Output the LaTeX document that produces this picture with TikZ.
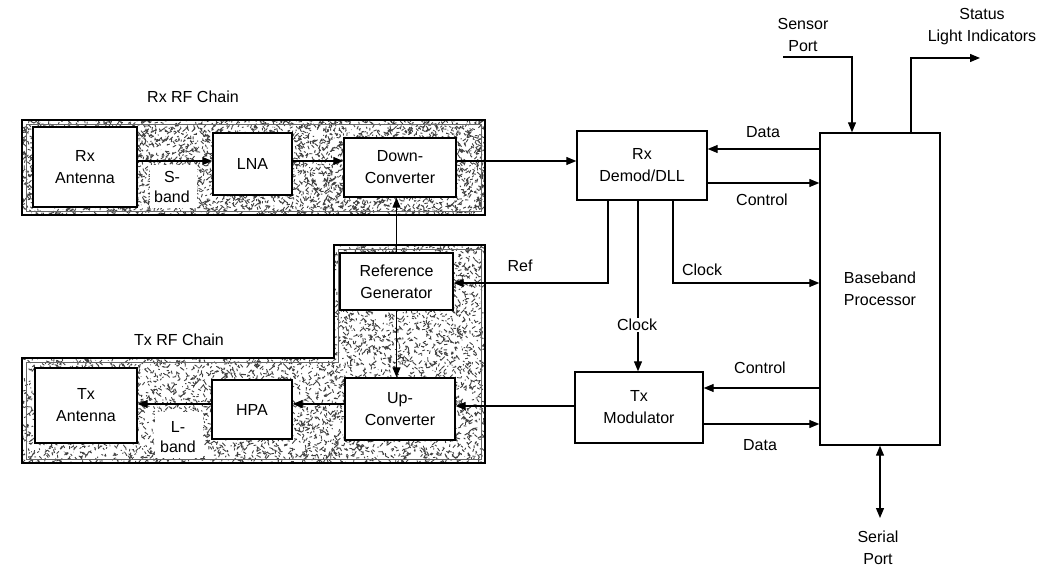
\documentclass[tikz,border=0pt]{standalone}
\usepackage{fontspec}
\setmainfont{Liberation Sans}
\usetikzlibrary{arrows.meta}
\newcommand\lblfont{\fontsize{16}{22}\selectfont}
\begin{document}
\begin{tikzpicture}[x=1pt,y=-1pt,
  box/.style={draw, line width=1.4pt, fill=white, inner sep=0pt, align=center, font=\lblfont},
  arr/.style={line width=1.2pt, -{Triangle[length=10pt,width=8pt]}},
  darr/.style={line width=1.2pt, {Triangle[length=10pt,width=8pt]}-{Triangle[length=10pt,width=8pt]}},
  lab/.style={font=\lblfont, align=center, inner sep=1pt},
  region/.style={draw, line width=1.5pt},
  inner/.style={draw=black!60, line width=0.7pt},
  speck/.style={draw=black!75, line width=0.9pt}]
\useasboundingbox (0,0) rectangle (1052,569);
\pgfmathsetseed{4242}

% ---- textured regions ----
\begin{scope}
  \clip (22,120) rectangle (485,215);
  \draw[speck] \foreach \i in {1,...,4500}{ ({22+463*rnd},{120+95*rnd}) -- ++({7*rnd-3.5},{7*rnd-3.5}) };
\end{scope}
\begin{scope}
  \clip (22,358) -- (334,358) -- (334,245) -- (485,245) -- (485,463) -- (22,463) -- cycle;
  \draw[speck] \foreach \i in {1,...,7500}{ ({22+463*rnd},{245+218*rnd}) -- ++({7*rnd-3.5},{7*rnd-3.5}) };
\end{scope}
\draw[region] (22,120) rectangle (485,215);
\draw[inner] (26,124) rectangle (481,211);
\draw[region] (22,358) -- (334,358) -- (334,245) -- (485,245) -- (485,463) -- (22,463) -- cycle;
\draw[inner] (26,362) -- (338,362) -- (338,249) -- (481,249) -- (481,459) -- (26,459) -- cycle;

% white label patches
\fill[white] (150,165) rectangle (197,208);
\fill[white] (155,412) rectangle (203,458);

% ---- region titles ----
\node[lab] (rxtitle) at (193,97) {Rx RF Chain};
\node[lab] (txtitle) at (179,340) {Tx RF Chain};

% ---- blocks ----
\node[box, minimum width=104pt, minimum height=80pt] (rxant) at (85,167) {Rx\\Antenna};
\node[box, minimum width=79pt, minimum height=62pt] (lna) at (252.5,164) {LNA};
\node[box, minimum width=112pt, minimum height=59pt] (dc) at (400,167.5) {Down-\\Converter};
\node[box, minimum width=130pt, minimum height=69pt] (demod) at (642,165.5) {Rx\\Demod/DLL};
\node[box, minimum width=120pt, minimum height=312pt] (bb) at (880,289) {Baseband\\Processor};
\node[box, minimum width=113pt, minimum height=57pt] (refgen) at (396.5,281.5) {Reference\\Generator};
\node[box, minimum width=110pt, minimum height=62pt] (upc) at (400,409) {Up-\\Converter};
\node[box, minimum width=80pt, minimum height=59pt] (hpa) at (252,409.5) {HPA};
\node[box, minimum width=102pt, minimum height=75pt] (txant) at (86,405.5) {Tx\\Antenna};
\node[box, minimum width=128pt, minimum height=71pt] (txmod) at (639,407.5) {Tx\\Modulator};

\node[lab, font=\fontsize{16}{20}\selectfont] (sband) at (172,187) {S-\\band};
\node[lab, font=\fontsize{16}{20}\selectfont] (lband) at (178,437) {L-\\band};

% ---- helper coordinates ----
\coordinate (yrx) at (0,161);
\coordinate (ydat) at (0,149);
\coordinate (yctl) at (0,183);
\coordinate (yref) at (0,283);
\coordinate (yctl2) at (0,388);
\coordinate (ydat2) at (0,424);
\coordinate (ytx) at (0,406);
\coordinate (ytxc) at (0,404);
\coordinate (x608) at (608,0);
\coordinate (x638) at (638,0);
\coordinate (x673) at (673,0);
\coordinate (x852) at (852,0);
\coordinate (x911) at (911,0);
\coordinate (sensor) at (783,57);
\coordinate (status) at (980,58);
\coordinate (serial) at (880,518);

% ---- connectors ----
\draw[arr] (rxant.east |- yrx) -- (lna.west |- yrx);
\draw[arr] (lna.east |- yrx) -- (dc.west |- yrx);
\draw[arr] (dc.east |- yrx) -- (demod.west |- yrx);
\draw[arr] (bb.west |- ydat) -- (demod.east |- ydat);
\draw[arr] (demod.east |- yctl) -- (bb.west |- yctl);
\draw[arr] (demod.south -| x608) |- (refgen.east |- yref);
\draw[arr] (demod.south -| x673) |- (bb.west |- yref);
\draw[arr] (demod.south -| x638) -- (txmod.north -| x638);
\draw[arr] (bb.west |- yctl2) -- (txmod.east |- yctl2);
\draw[arr] (txmod.east |- ydat2) -- (bb.west |- ydat2);
\draw[arr] (txmod.west |- ytx) -- (upc.east |- ytx);
\draw[arr] (upc.west |- ytxc) -- (hpa.east |- ytxc);
\draw[arr] (hpa.west |- ytxc) -- (txant.east |- ytxc);
\draw[arr] (refgen.north) -- (refgen.north |- dc.south);
\draw[arr] (refgen.south) -- (refgen.south |- upc.north);
\draw[arr] (sensor) -| (bb.north -| x852);
\draw[arr] (bb.north -| x911) |- (status);
\draw[darr] (bb.south) -- (serial);

% ---- connector labels ----
\node[lab] (ldata) at (763,132) {Data};
\node[lab] (lctl) at (762,200) {Control};
\node[lab] (lref) at (520,266) {Ref};
\node[lab] (lclk1) at (702,270) {Clock};
\node[lab, fill=white] (lclk2) at (637,325) {Clock};
\node[lab] (lctl2) at (760,368) {Control};
\node[lab] (ldata2) at (760,445) {Data};
\node[lab] (lsensor) at (803,35) {Sensor\\Port};
\node[lab] (lstatus) at (982,27) {Status\\Light Indicators};
\node[lab] (lserial) at (878,548) {Serial\\Port};
\end{tikzpicture}
\end{document}
